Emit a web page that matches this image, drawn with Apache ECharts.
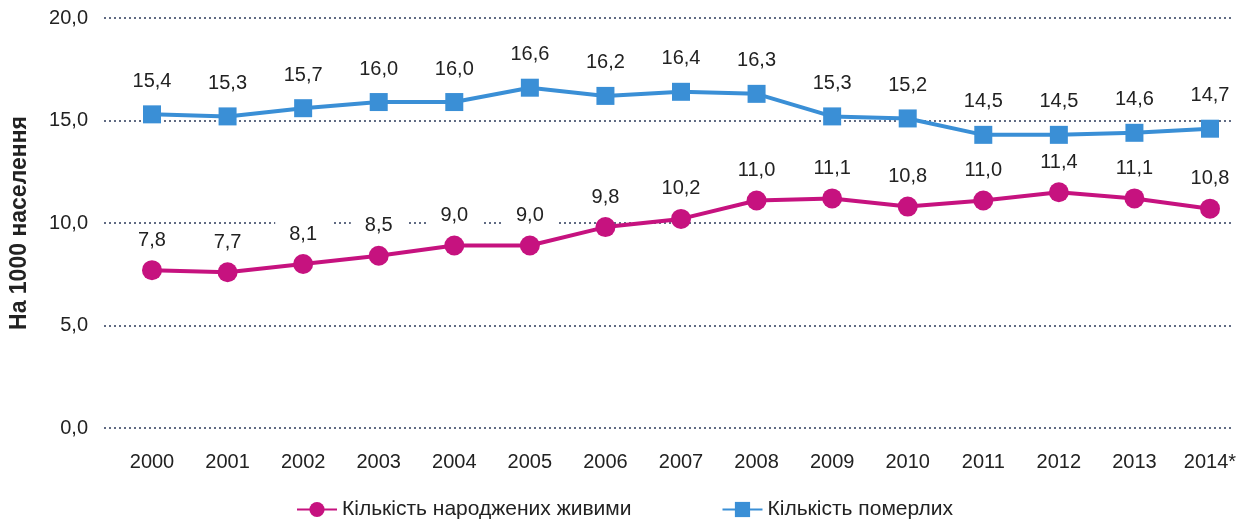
<!DOCTYPE html>
<html>
<head>
<meta charset="utf-8">
<script src="https://cdn.jsdelivr.net/npm/echarts@6/dist/echarts.min.js"></script>
<style>
  html, body { margin: 0; padding: 0; background: #fff; }
  #chart { width: 1247px; height: 525px; }
</style>
</head>
<body>
<div id="chart"></div>
<script>
const years = ['2000', '2001', '2002', '2003', '2004', '2005', '2006', '2007',
  '2008', '2009', '2010', '2011', '2012', '2013', '2014*'];
const bornAlive = [7.7, 7.6, 8.0, 8.4, 8.9, 8.9, 9.8, 10.2, 11.1, 11.2, 10.8, 11.1, 11.5, 11.2, 10.7];
const bornLabels = ['7,8', '7,7', '8,1', '8,5', '9,0', '9,0', '9,8', '10,2', '11,0', '11,1', '10,8', '11,0', '11,4', '11,1', '10,8'];
const died = [15.3, 15.2, 15.6, 15.9, 15.9, 16.6, 16.2, 16.4, 16.3, 15.2, 15.1, 14.3, 14.3, 14.4, 14.6];
const diedLabels = ['15,4', '15,3', '15,7', '16,0', '16,0', '16,6', '16,2', '16,4', '16,3', '15,3', '15,2', '14,5', '14,5', '14,6', '14,7'];

const PINK = '#c6127f';
const BLUE = '#3a8fd6';
const FONT = '"Liberation Sans", Arial, sans-serif';

let fmt = function (v) {
  return v.toFixed(1).replace('.', ',');
};

let option = {
  backgroundColor: '#fff',
  animation: false,
  textStyle: { fontFamily: FONT },
  legend: {
    bottom: 0,
    left: 291,
    itemGap: 90,
    itemWidth: 40,
    itemHeight: 19,
    textStyle: { fontSize: 21, color: '#222', fontFamily: FONT },
    data: ['Кількість народжених живими', 'Кількість померлих']
  },
  grid: [
    // grid only for the dotted lines + y labels
    { left: 104, right: 15, top: 18, bottom: 97, outerBoundsMode: 'none' },
    // grid for the series
    { left: 152, right: 37, top: 18, bottom: 97, outerBoundsMode: 'none' }
  ],
  xAxis: [
    { gridIndex: 0, type: 'category', data: years, show: false },
    {
      gridIndex: 1,
      type: 'category',
      data: years,
      boundaryGap: false,
      axisLine: { show: false },
      axisTick: { show: false },
      axisLabel: { fontSize: 20, color: '#222', margin: 24, fontFamily: FONT }
    }
  ],
  yAxis: [
    {
      gridIndex: 0,
      type: 'value',
      min: 0,
      max: 20,
      interval: 5,
      name: 'На 1000 населення',
      nameLocation: 'middle',
      nameGap: 73,
      nameTextStyle: { fontSize: 23, fontWeight: 'bold', color: '#222', fontFamily: FONT },
      axisLine: { show: false },
      axisTick: { show: false },
      axisLabel: { fontSize: 20, color: '#222', margin: 16, formatter: fmt },
      splitLine: { lineStyle: { color: '#2c3a5a', type: [2, 3], width: 1.5 } }
    },
    {
      gridIndex: 1,
      type: 'value',
      min: 0,
      max: 20,
      interval: 5,
      show: false,
      splitLine: { show: false }
    }
  ],
  series: [
    {
      name: 'Кількість народжених живими',
      type: 'line',
      xAxisIndex: 1,
      yAxisIndex: 1,
      data: bornAlive,
      symbol: 'circle',
      symbolSize: 20,
      color: PINK,
      lineStyle: { width: 4, color: PINK },
      itemStyle: { color: PINK },
      label: {
        show: true,
        position: 'top',
        distance: 8,
        fontSize: 20,
        color: '#222',
        fontFamily: FONT,
        backgroundColor: '#fff',
        padding: [2, 14],
        formatter: function (p) { return bornLabels[p.dataIndex]; }
      }
    },
    {
      name: 'Кількість померлих',
      type: 'line',
      xAxisIndex: 1,
      yAxisIndex: 1,
      data: died,
      symbol: 'rect',
      symbolSize: 18,
      color: BLUE,
      lineStyle: { width: 4, color: BLUE },
      itemStyle: { color: BLUE },
      label: {
        show: true,
        position: 'top',
        distance: 14,
        fontSize: 20,
        color: '#222',
        fontFamily: FONT,
        formatter: function (p) { return diedLabels[p.dataIndex]; }
      }
    }
  ]
};

let myChart = echarts.init(document.getElementById('chart'));
myChart.setOption(option);
</script>
</body>
</html>
